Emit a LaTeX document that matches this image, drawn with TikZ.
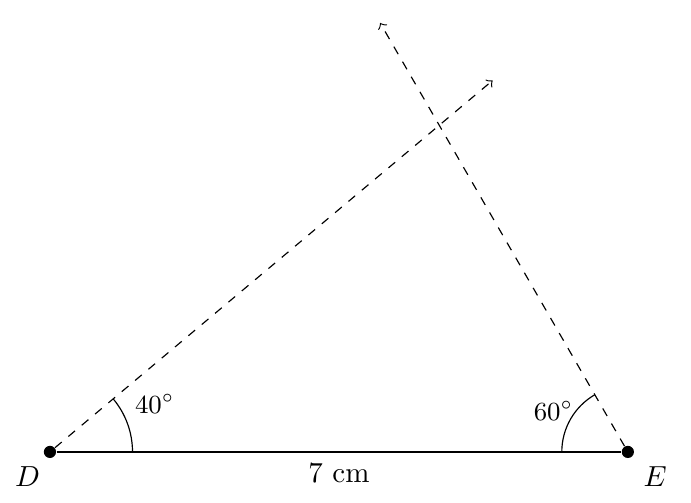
\documentclass[tikz,border=0pt]{standalone}
\usepackage{amsmath}
\usetikzlibrary{positioning}
\begin{document}
\begin{tikzpicture}[
      type-point/.style={circle, fill=black, inner sep=0pt, minimum size=4.2pt},
      type-ray/.style={dashed, ->},
      type-side/.style={thick},
      type-angle/.style={font=\small}
    ]
      \useasboundingbox (-0.605,-0.618) rectangle (7.765,5.474);
      \node[type-point] (D) at (0,0) {};
      \node[type-point] (E) at (7,0) {};
      \coordinate (D-ray) at (40:7);
      \coordinate (E-ray) at (4,5.196);
      \draw[type-side] (D) -- node[below] (side) {7 cm} (E);
      \draw[type-ray] (D) -- (D-ray);
      \draw[type-ray] (E) -- (E-ray);
      % angle marks
      \draw (1,0) arc (0:40:1);
      \draw (6.2,0) arc (180:120:0.8);
      \node[type-angle] (angle-D) at (1.27,0.58) {$40^\circ$};
      \node[type-angle] (angle-E) at (6.10,0.50) {$60^\circ$};
      \node (label-D) at (-0.27,-0.30) {$D$};
      \node (label-E) at (7.33,-0.30) {$E$};
    \end{tikzpicture}
\end{document}
